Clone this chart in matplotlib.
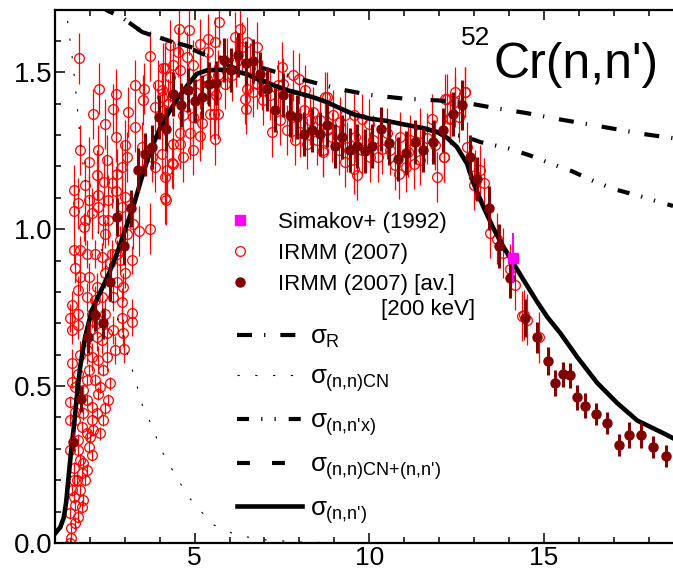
import matplotlib
matplotlib.use("Agg")
import matplotlib.pyplot as plt
from matplotlib.ticker import MultipleLocator

plt.rcParams["font.family"] = ["Liberation Sans", "DejaVu Sans"]
plt.rcParams["mathtext.fontset"] = "custom"
plt.rcParams["mathtext.rm"] = "Liberation Sans"
plt.rcParams["mathtext.it"] = "Liberation Sans"
plt.rcParams["mathtext.bf"] = "Liberation Sans:bold"

# --- theory curves (E in MeV, cross section in b) ---
nnp_e = [1.0, 1.15, 1.25, 1.32, 1.38, 1.45, 1.55, 1.62, 1.72, 1.86, 2.05, 2.3, 2.55, 2.8,
         3.0, 3.25, 3.5, 3.75, 4.0, 4.25, 4.5, 4.77, 5.06, 5.35, 5.73, 6.11, 6.49, 6.87,
         7.26, 7.64, 8.02, 8.4, 8.78, 9.07, 9.55, 10.03, 10.5, 10.98, 11.46, 11.94, 12.22,
         12.51, 12.8, 12.99, 13.27, 13.56, 13.84, 14.13, 14.42, 14.8, 15.1, 15.47, 15.96,
         16.53, 17.1, 17.68, 18.42, 18.7]
nnp_xs = [0.03, 0.05, 0.08, 0.13, 0.2, 0.28, 0.38, 0.46, 0.56, 0.655, 0.74, 0.80, 0.86, 0.93,
          0.995, 1.075, 1.17, 1.255, 1.32, 1.37, 1.415, 1.455, 1.495, 1.506, 1.508, 1.505,
          1.494, 1.475, 1.459, 1.443, 1.432, 1.42, 1.405, 1.39, 1.366, 1.352, 1.345, 1.334,
          1.324, 1.31, 1.292, 1.262, 1.209, 1.146, 1.071, 1.002, 0.944, 0.891, 0.838, 0.77,
          0.72, 0.669, 0.592, 0.51, 0.446, 0.39, 0.35, 0.334]

sig_r_e = [2.3, 2.5, 2.95, 3.5, 4.2, 4.9, 5.5, 6.2, 6.9, 7.8, 8.6, 9.2, 10.0, 11.0, 12.0,
           12.6, 13.5, 14.5, 15.5, 16.7, 17.8, 18.7]
sig_r_xs = [1.71, 1.697, 1.672, 1.628, 1.603, 1.58, 1.555, 1.53, 1.515, 1.485, 1.462, 1.445,
            1.428, 1.416, 1.41, 1.406, 1.388, 1.37, 1.349, 1.326, 1.304, 1.29]

cn_e = [1.3, 1.38, 1.48, 1.57, 1.67, 1.75, 1.85, 2.0, 2.2, 2.45, 2.7, 2.9, 3.05, 3.3, 3.5,
        3.75, 4.05, 4.3, 4.8, 5.5, 6.2, 7.0, 8.0, 9.0]
cn_xs = [1.72, 1.645, 1.56, 1.47, 1.35, 1.26, 1.16, 1.09, 1.01, 0.875, 0.75, 0.68, 0.61, 0.52,
         0.44, 0.38, 0.295, 0.245, 0.15, 0.06, 0.025, 0.01, 0.003, 0.001]

cn_nnp_e = [2.3, 2.5, 2.95, 3.5, 4.2, 4.9, 5.5, 6.0, 6.5, 7.0, 7.26, 7.64, 8.02]
cn_nnp_xs = [1.72, 1.697, 1.672, 1.628, 1.603, 1.575, 1.545, 1.52, 1.50, 1.472, 1.459, 1.443,
             1.432]

nnx_e = [11.5, 11.94, 12.3, 12.7, 13.2, 14.0, 14.6, 15.2, 15.8, 16.45, 17.0, 17.7, 18.2, 18.7]
nnx_xs = [1.324, 1.31, 1.302, 1.297, 1.277, 1.257, 1.235, 1.209, 1.185, 1.152, 1.128, 1.107,
          1.09, 1.074]

# --- Simakov+ (1992) ---
sim_e = [14.11]
sim_xs = [0.909]
sim_err = [0.08]

# --- IRMM (2007), averaged over 200 keV ---
avg_e = [1.52, 1.745, 1.94, 2.15, 2.37, 2.58, 2.77, 2.98, 3.18, 3.37, 3.58, 3.77, 3.99, 4.18,
         4.39, 4.6, 4.82, 5.01, 5.22, 5.42, 5.61, 5.84, 6.04, 6.25, 6.46, 6.68, 6.87, 7.08,
         7.3, 7.52, 7.73, 7.94, 8.14, 8.37, 8.59, 8.8, 9.02, 9.23, 9.45, 9.66, 9.88, 10.09,
         10.34, 10.57, 10.81, 11.05, 11.32, 11.55, 11.84, 12.11, 12.41, 12.65, 12.88, 13.08,
         13.42, 13.73, 14.04, 14.47, 14.8, 15.11, 15.33, 15.54, 15.74, 15.95, 16.19, 16.49,
         16.81, 17.14, 17.45, 17.78, 18.12, 18.5]
avg_xs = [0.323, 0.459, 0.657, 0.726, 0.70, 0.832, 1.039, 0.946, 1.066, 1.188, 1.238, 1.262,
          1.358, 1.32, 1.43, 1.395, 1.443, 1.407, 1.42, 1.464, 1.466, 1.538, 1.506, 1.554,
          1.53, 1.536, 1.494, 1.447, 1.379, 1.429, 1.363, 1.356, 1.304, 1.315, 1.304, 1.331,
          1.264, 1.294, 1.252, 1.264, 1.248, 1.264, 1.318, 1.275, 1.225, 1.243, 1.278, 1.252,
          1.278, 1.315, 1.366, 1.395, 1.23, 1.161, 1.066, 0.946, 0.845, 0.716, 0.655, 0.58,
          0.51, 0.538, 0.535, 0.464, 0.437, 0.41, 0.383, 0.312, 0.344, 0.344, 0.305, 0.278]
avg_err = [0.03, 0.04, 0.05, 0.05, 0.05, 0.06, 0.06, 0.06, 0.06, 0.07, 0.07, 0.07, 0.07, 0.07,
           0.07, 0.07, 0.07, 0.07, 0.07, 0.07, 0.07, 0.07, 0.07, 0.07, 0.07, 0.07, 0.07, 0.07,
           0.07, 0.07, 0.07, 0.07, 0.07, 0.07, 0.07, 0.07, 0.07, 0.07, 0.07, 0.07, 0.07, 0.07,
           0.07, 0.07, 0.07, 0.07, 0.07, 0.07, 0.07, 0.07, 0.07, 0.08, 0.07, 0.07, 0.07, 0.07,
           0.065, 0.06, 0.05, 0.045, 0.04, 0.04, 0.04, 0.04, 0.04, 0.035, 0.035, 0.035, 0.04,
           0.04, 0.035, 0.035]
avg_bin = 0.1

# --- IRMM (2007), full resolution ---
# low-energy part, small uncertainties
irmm_lo_e = [1.48, 1.67, 1.96, 2.38, 2.58, 2.15, 1.43, 1.57, 1.91, 2.24, 2.43, 2.38, 2.07,
             1.91, 2.29, 2.0, 1.76, 1.43, 1.67, 2.07, 1.81, 1.91, 1.53, 1.62, 1.86, 1.48, 1.72,
             1.81, 1.57, 1.43, 1.67, 1.46, 1.46, 1.43, 1.57, 1.81, 2.05, 1.57, 1.81, 2.1, 1.67,
             1.96, 1.72, 1.53, 1.76, 1.53, 1.76, 1.57, 1.91, 2.29, 2.53, 2.19, 1.43]
irmm_lo_xs = [0.514, 0.54, 0.551, 0.551, 0.509, 0.52, 0.45, 0.418, 0.455, 0.476, 0.429, 0.392,
              0.392, 0.349, 0.349, 0.339, 0.37, 0.296, 0.296, 0.28, 0.254, 0.232, 0.238, 0.201,
              0.201, 0.169, 0.169, 0.137, 0.121, 0.095, 0.084, 0.047, 0.015, 0.0, 0.498, 0.487,
              0.434, 0.392, 0.413, 0.36, 0.328, 0.307, 0.264, 0.201, 0.222, 0.148, 0.116, 0.063,
              0.52, 0.498, 0.455, 0.413, 0.392]
irmm_lo_err = 0.02

# middle band
irmm_mid_e = [1.48, 1.72, 1.91, 2.19, 2.34, 2.98, 2.48, 2.67, 2.96, 2.91, 3.2, 3.2, 1.50, 1.67,
              1.43, 1.67, 1.48, 2.91, 2.15, 2.67, 2.34, 1.91, 1.67, 2.77, 2.96, 3.01, 2.86,
              2.62, 2.43, 2.19, 1.96, 1.72, 1.57, 3.2, 2.58, 2.77, 2.34, 2.15, 1.91, 1.72, 1.53,
              2.86, 3.05, 2.43, 1.84, 2.05, 2.43, 2.19, 2.0, 2.24, 2.48, 2.72, 2.05]
irmm_mid_xs = [0.572, 0.599, 0.615, 0.657, 0.646, 0.617, 0.668, 0.678, 0.668, 0.716, 0.705,
               0.733, 0.678, 0.694, 0.716, 0.731, 0.758, 0.769, 0.774, 0.785, 0.785, 0.785,
               0.806, 0.832, 0.816, 0.859, 0.901, 0.922, 0.859, 0.816, 0.848, 0.848, 0.875,
               0.901, 0.891, 0.922, 0.912, 0.922, 0.922, 0.933, 0.935, 0.965, 0.986, 0.986,
               1.008, 0.731, 0.731, 0.70, 0.678, 0.583, 0.593, 0.615, 0.593]
irmm_mid_err = 0.045

# upper part and high energies
irmm_hi_e = [1.69, 2.26, 2.10, 2.43, 2.67, 2.75, 3.29, 3.10, 3.72, 3.56, 3.53, 3.29, 2.74, 2.24,
             1.72, 1.98, 2.48, 2.21, 1.86, 1.54, 1.65, 1.54, 1.96, 2.24, 2.41, 2.77, 2.91,
             3.01, 3.05, 3.48, 3.79, 3.87, 4.06, 4.15, 4.39, 4.30, 3.96, 4.06, 3.87, 4.36, 4.15,
             3.72, 3.41, 3.24, 2.75, 2.62, 2.53, 2.24, 1.86, 2.05, 2.38, 2.53, 2.91, 3.01,
             4.56, 4.85, 5.15, 5.39, 5.71, 5.58, 4.1, 4.3, 4.53, 4.96, 4.77, 5.39, 6.16, 6.3,
             6.49, 6.78, 6.35, 5.92, 6.19, 5.35, 5.68, 5.54, 6.49, 6.68, 6.44, 6.92, 7.5, 7.4,
             6.78, 4.12, 4.25, 4.68, 4.96, 5.2, 5.44, 5.54, 5.68, 5.61, 5.14, 5.58, 4.58, 4.87,
             4.39, 4.58, 4.96, 4.68, 4.39, 4.2, 4.15, 4.18, 6.47, 7.21, 7.45, 7.78, 8.12, 8.4,
             8.59, 8.78, 8.02, 8.31, 7.64, 7.88, 8.21, 8.5, 8.69, 7.16, 7.54, 7.81, 7.99, 8.16,
             6.97, 4.58, 4.06, 5.15, 6.06, 5.87, 6.59,
             8.74, 8.97, 9.17, 9.31, 9.55, 9.79, 9.98, 8.69, 8.93, 9.12, 9.31, 9.55, 9.64, 9.79,
             10.03, 10.26, 10.5, 10.6, 10.89, 10.74, 10.84, 11.06, 11.17, 11.46, 11.65, 11.79,
             11.89, 12.13, 11.94, 12.22, 12.32, 12.46, 12.75, 12.56, 11.46, 11.12, 11.27, 10.12,
             10.36, 9.6, 9.36, 8.78,
             12.32, 12.13, 13.18, 12.99, 13.29, 13.46, 13.84, 14.18, 14.37, 14.02, 14.42, 14.53,
             14.85, 12.17, 12.46, 12.75, 12.8, 13.03, 13.66]
irmm_hi_xs = [1.544, 1.448, 1.368, 1.334, 1.384, 1.43, 1.459, 1.374, 1.551, 1.448, 1.411, 1.326,
              1.294, 1.252, 1.252, 1.214, 1.22, 1.172, 1.14, 1.124, 1.082, 1.058, 1.094, 1.071,
              1.151, 1.177, 1.198, 1.267, 1.23, 1.262, 1.23, 1.198, 1.241, 1.512, 1.522, 1.485,
              1.459, 1.421, 1.39, 1.211, 1.098, 1.002, 0.995, 1.018, 1.122, 1.146, 1.092, 1.108,
              1.029, 1.05, 1.029, 1.029, 1.071, 1.103,
              1.639, 1.634, 1.591, 1.607, 1.66, 1.597, 1.512, 1.586, 1.565, 1.522, 1.549, 1.565,
              1.613, 1.639, 1.597, 1.581, 1.581, 1.528, 1.533, 1.48, 1.49, 1.443, 1.448, 1.437,
              1.416, 1.459, 1.517, 1.459, 1.464, 1.379, 1.4, 1.363, 1.358, 1.337, 1.368, 1.368,
              1.368, 1.427, 1.296, 1.286, 1.305, 1.305, 1.273, 1.273, 1.252, 1.23, 1.209, 1.188,
              1.167, 1.092, 1.384, 1.31, 1.347, 1.358, 1.379, 1.374, 1.347, 1.421, 1.31, 1.347,
              1.315, 1.283, 1.273, 1.283, 1.246, 1.427, 1.464, 1.49, 1.48, 1.443, 1.411, 1.506,
              1.443, 1.464, 1.49, 1.464, 1.512,
              1.421, 1.363, 1.342, 1.363, 1.363, 1.352, 1.336, 1.252, 1.294, 1.252, 1.214, 1.193,
              1.172, 1.252, 1.23, 1.23, 1.305, 1.252, 1.294, 1.204, 1.177, 1.198, 1.283, 1.22,
              1.289, 1.352, 1.268, 1.23, 1.167, 1.416, 1.352, 1.405, 1.437, 1.358, 1.305, 1.246,
              1.209, 1.283, 1.257, 1.294, 1.262, 1.315,
              1.353, 1.23, 1.188, 1.14, 1.146, 0.988, 0.923, 0.822, 0.723, 0.872, 0.726, 0.712,
              0.655, 1.416, 1.438, 1.438, 1.262, 1.172, 0.97]
irmm_hi_err = 0.08

RED = "#ff0000"
DARK_RED = "#800000"

fig = plt.figure(figsize=(6.73, 5.73), dpi=100)
ax = fig.add_axes([55 / 673, 30 / 573, 618 / 673, 533.5 / 573])

open_style = dict(fmt="o", ms=7, mfc="none", mec=RED, mew=0.9, ecolor=RED,
                  elinewidth=0.9, capsize=0, zorder=1)
ax.errorbar(irmm_lo_e, irmm_lo_xs, yerr=irmm_lo_err, **open_style)
ax.errorbar(irmm_mid_e, irmm_mid_xs, yerr=irmm_mid_err, **open_style)
eb_irmm = ax.errorbar(irmm_hi_e, irmm_hi_xs, yerr=irmm_hi_err, **open_style)

l_r, = ax.plot(sig_r_e, sig_r_xs, color="k", lw=3, dashes=(3.6, 2.9, 0.3, 3.6), zorder=2)
l_cn, = ax.plot(cn_e, cn_xs, color="k", lw=0.8, dashes=(2, 14), zorder=2)
l_nnx, = ax.plot(nnx_e, nnx_xs, color="k", lw=3, dashes=(2.9, 2.9, 0.3, 2.9, 0.3, 3.1), zorder=2)
l_cnn, = ax.plot(cn_nnp_e, cn_nnp_xs, color="k", lw=3, dashes=(3.1, 5.3), zorder=2)
l_nnp, = ax.plot(nnp_e, nnp_xs, color="k", lw=3.3, zorder=2)

eb_avg = ax.errorbar(avg_e, avg_xs, xerr=avg_bin, yerr=avg_err, fmt="o", ms=6.5, color=DARK_RED,
                     elinewidth=2.2, capsize=0, zorder=3)
eb_sim = ax.errorbar(sim_e, sim_xs, yerr=sim_err, fmt="s", ms=7, color="magenta",
                     elinewidth=1.5, capsize=0, zorder=4)

ax.set_xlim(1.0, 18.7)
ax.set_ylim(0.0, 1.7)
ax.xaxis.set_major_locator(MultipleLocator(5))
ax.xaxis.set_minor_locator(MultipleLocator(1))
ax.yaxis.set_major_locator(MultipleLocator(0.5))
ax.yaxis.set_minor_locator(MultipleLocator(0.1))
ax.yaxis.set_major_formatter(plt.FormatStrFormatter("%.1f"))
ax.tick_params(which="both", direction="in", top=True, right=False, width=1.1)
ax.tick_params(which="major", length=7.5, labelsize=20)
ax.tick_params(axis="x", which="major", pad=2, labelsize=19)
ax.tick_params(axis="y", which="major", pad=2)
ax.tick_params(which="minor", length=4.5)
ax.spines["right"].set_visible(False)
for side in ("left", "bottom", "top"):
    ax.spines[side].set_linewidth(1.6)

leg1 = ax.legend([eb_sim.lines[0], eb_irmm.lines[0], eb_avg.lines[0]],
                 ["Simakov+ (1992)", "IRMM (2007)", "IRMM (2007) [av.]"],
                 loc="upper left", bbox_to_anchor=(229 / 673, 1 - 212 / 573),
                 bbox_transform=fig.transFigure, frameon=False, fontsize=16,
                 handlelength=1.0, handletextpad=1.2, labelspacing=0.44,
                 borderpad=0, borderaxespad=0)
ax.add_artist(leg1)
fig.text(475 / 673, 1 - 309 / 573, "[200 keV]", ha="right", va="center", fontsize=16)

ax.legend([l_r, l_cn, l_nnx, l_cnn, l_nnp],
          [r"$\sigma_{\text{R}}$", r"$\sigma_{\text{(n,n)CN}}$", r"$\sigma_{\text{(n,n'x)}}$",
           r"$\sigma_{\text{(n,n)CN+(n,n')}}$", r"$\sigma_{\text{(n,n')}}$"],
          loc="upper left", bbox_to_anchor=(237 / 673, 1 - 325 / 573),
          bbox_transform=fig.transFigure, frameon=False, fontsize=18.5,
          handlelength=2.53, handletextpad=0.31, labelspacing=0.57,
          borderpad=0, borderaxespad=0)

fig.text(461 / 673, 1 - 45 / 573, "52", fontsize=19, va="baseline")
fig.text(494 / 673, 1 - 78 / 573, "Cr(n,n')", fontsize=36, va="baseline")

fig.savefig("out.png", dpi=100)
